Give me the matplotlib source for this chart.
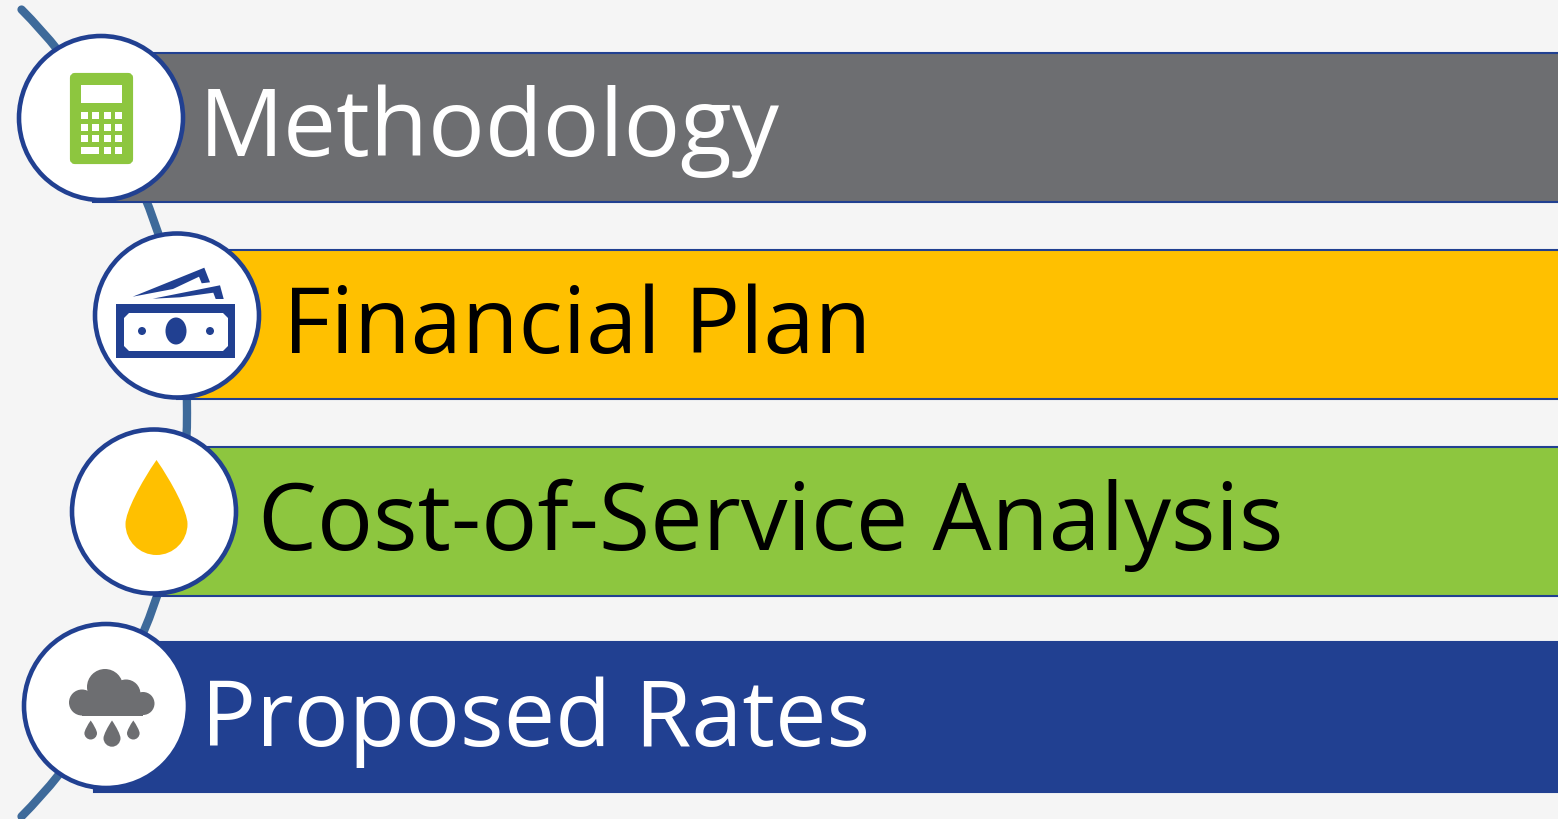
import matplotlib
matplotlib.use("Agg")
import matplotlib.pyplot as plt
import numpy as np
from matplotlib.patches import Rectangle, Circle, Ellipse, Arc, Polygon, FancyBboxPatch, PathPatch
from matplotlib.path import Path

# Zeilen des Diagramms
labels = ["Methodology", "Financial Plan", "Cost-of-Service Analysis", "Proposed Rates"]
text_colors = ["white", "black", "black", "white"]
text_size = [68, 66.5, 67.2, 66]
bar_colors = ["#6D6E71", "#FFC000", "#8DC63F", "#214091"]
bar_left = [93, 177, 154, 94]
bar_top = [53, 250, 447, 642]
bar_bottom = [202, 399, 596, 792]
text_x = [199, 283, 258, 201]
text_base = [155, 352, 549, 745]
circle_x = [101, 177, 154, 106]
circle_y = [118, 315.5, 511.5, 706]

bg = "#F5F5F5"
blue = "#214091"
grey = "#6D6E71"
green = "#8DC63F"
yellow = "#FFC000"

plt.rcParams['font.family'] = ['Open Sans', 'DejaVu Sans']

fig = plt.figure(figsize=(15.58, 8.2), dpi=100, facecolor=bg)
ax = fig.add_axes([0, 0, 1, 1])
ax.set_xlim(0, 1558)
ax.set_ylim(819, -1)
ax.axis("off")

# Bogen hinter den Kreisen
ax.add_patch(Arc((-387.6, 413), 2 * 574.6, 2 * 574.6, theta1=-44.6, theta2=44.6,
                 color="#3E6A9A", lw=6, zorder=1, capstyle="round"))

# Balken, Kreise, Texte
for i in range(4):
    ax.add_patch(Rectangle((bar_left[i], bar_top[i]), 1600, bar_bottom[i] - bar_top[i],
                           fc=bar_colors[i], ec=blue, lw=1.5, zorder=2))
    ax.add_patch(Circle((circle_x[i], circle_y[i]), 82, fc="white", ec=blue, lw=3.3, zorder=3))
    ax.text(text_x[i], text_base[i], labels[i], color=text_colors[i], fontsize=text_size[i],
            va="baseline", ha="left", zorder=4)


def tropfen(cx, tip, bottom, r, color):
    # Tropfen mit Spitze oben und rundem Ende unten
    cy = bottom - r
    verts = [(cx, tip), (cx + 0.5 * r, tip + 0.35 * (cy - tip)), (cx + r, cy - 0.4 * r), (cx + r, cy),
             (cx + r, cy + 0.55 * r), (cx + 0.55 * r, bottom), (cx, bottom),
             (cx - 0.55 * r, bottom), (cx - r, cy + 0.55 * r), (cx - r, cy),
             (cx - r, cy - 0.4 * r), (cx - 0.5 * r, tip + 0.35 * (cy - tip)), (cx, tip), (cx, tip)]
    codes = [Path.MOVETO] + [Path.CURVE4] * 12 + [Path.CLOSEPOLY]
    ax.add_patch(PathPatch(Path(verts, codes), fc=color, ec="none", zorder=5))


# Taschenrechner
ax.add_patch(FancyBboxPatch((72, 75), 59, 87, boxstyle="round,pad=0,rounding_size=3", fc=green, ec=green, lw=3, zorder=5))
ax.add_patch(Rectangle((81, 85), 41, 18, fc="white", ec="none", zorder=6))
for ky in [112, 123.5, 135]:
    for kx in [81, 92.5, 104, 115]:
        ax.add_patch(Rectangle((kx, ky), 7, 7, fc="white", ec="none", zorder=6))
ax.add_patch(Rectangle((81, 146.5), 18.5, 7, fc="white", ec="none", zorder=6))
for kx in [104, 115]:
    ax.add_patch(Rectangle((kx, 146.5), 7, 7, fc="white", ec="none", zorder=6))

# Geldscheine
ax.add_patch(Polygon([(132.7, 296.7), (204.3, 267.7), (210, 282.3), (201.7, 283.3), (199, 276.7), (173, 289)],
                     fc=blue, ec="none", zorder=5))
ax.add_patch(Polygon([(152.7, 298.7), (220, 285.3), (223.7, 299), (215.7, 299), (213.3, 292.7), (180, 297.3)],
                     fc=blue, ec="none", zorder=5))
ax.add_patch(Rectangle((116.5, 304), 119, 54, fc=blue, ec="none", zorder=5))
ax.add_patch(Polygon([(129, 313), (223, 313), (228, 318), (228, 346), (223, 351), (129, 351), (124, 346), (124, 318)],
                     fc="white", ec="none", zorder=6))
ax.add_patch(Ellipse((176, 331), 21, 27, fc=blue, ec="none", zorder=7))
for dx in [142, 210]:
    ax.add_patch(Circle((dx, 331), 4, fc=blue, ec="none", zorder=7))

# Tropfen
tropfen(156.5, 460, 555, 31, yellow)

# Wolke mit Regen
for wx, wy, wr in [(105, 687, 18), (126, 694, 14.5), (82, 702.5, 13), (143, 703.5, 11.5)]:
    ax.add_patch(Circle((wx, wy), wr, fc=grey, ec="none", zorder=5))
ax.add_patch(Rectangle((82, 695), 61, 20.5, fc=grey, ec="none", zorder=5))
tropfen(90.7, 720.5, 739.5, 6.3, grey)
tropfen(112, 720.5, 746.7, 8.5, grey)
tropfen(133.3, 720.5, 739.5, 6.3, grey)

plt.savefig("out.png", dpi=100, facecolor=bg)
